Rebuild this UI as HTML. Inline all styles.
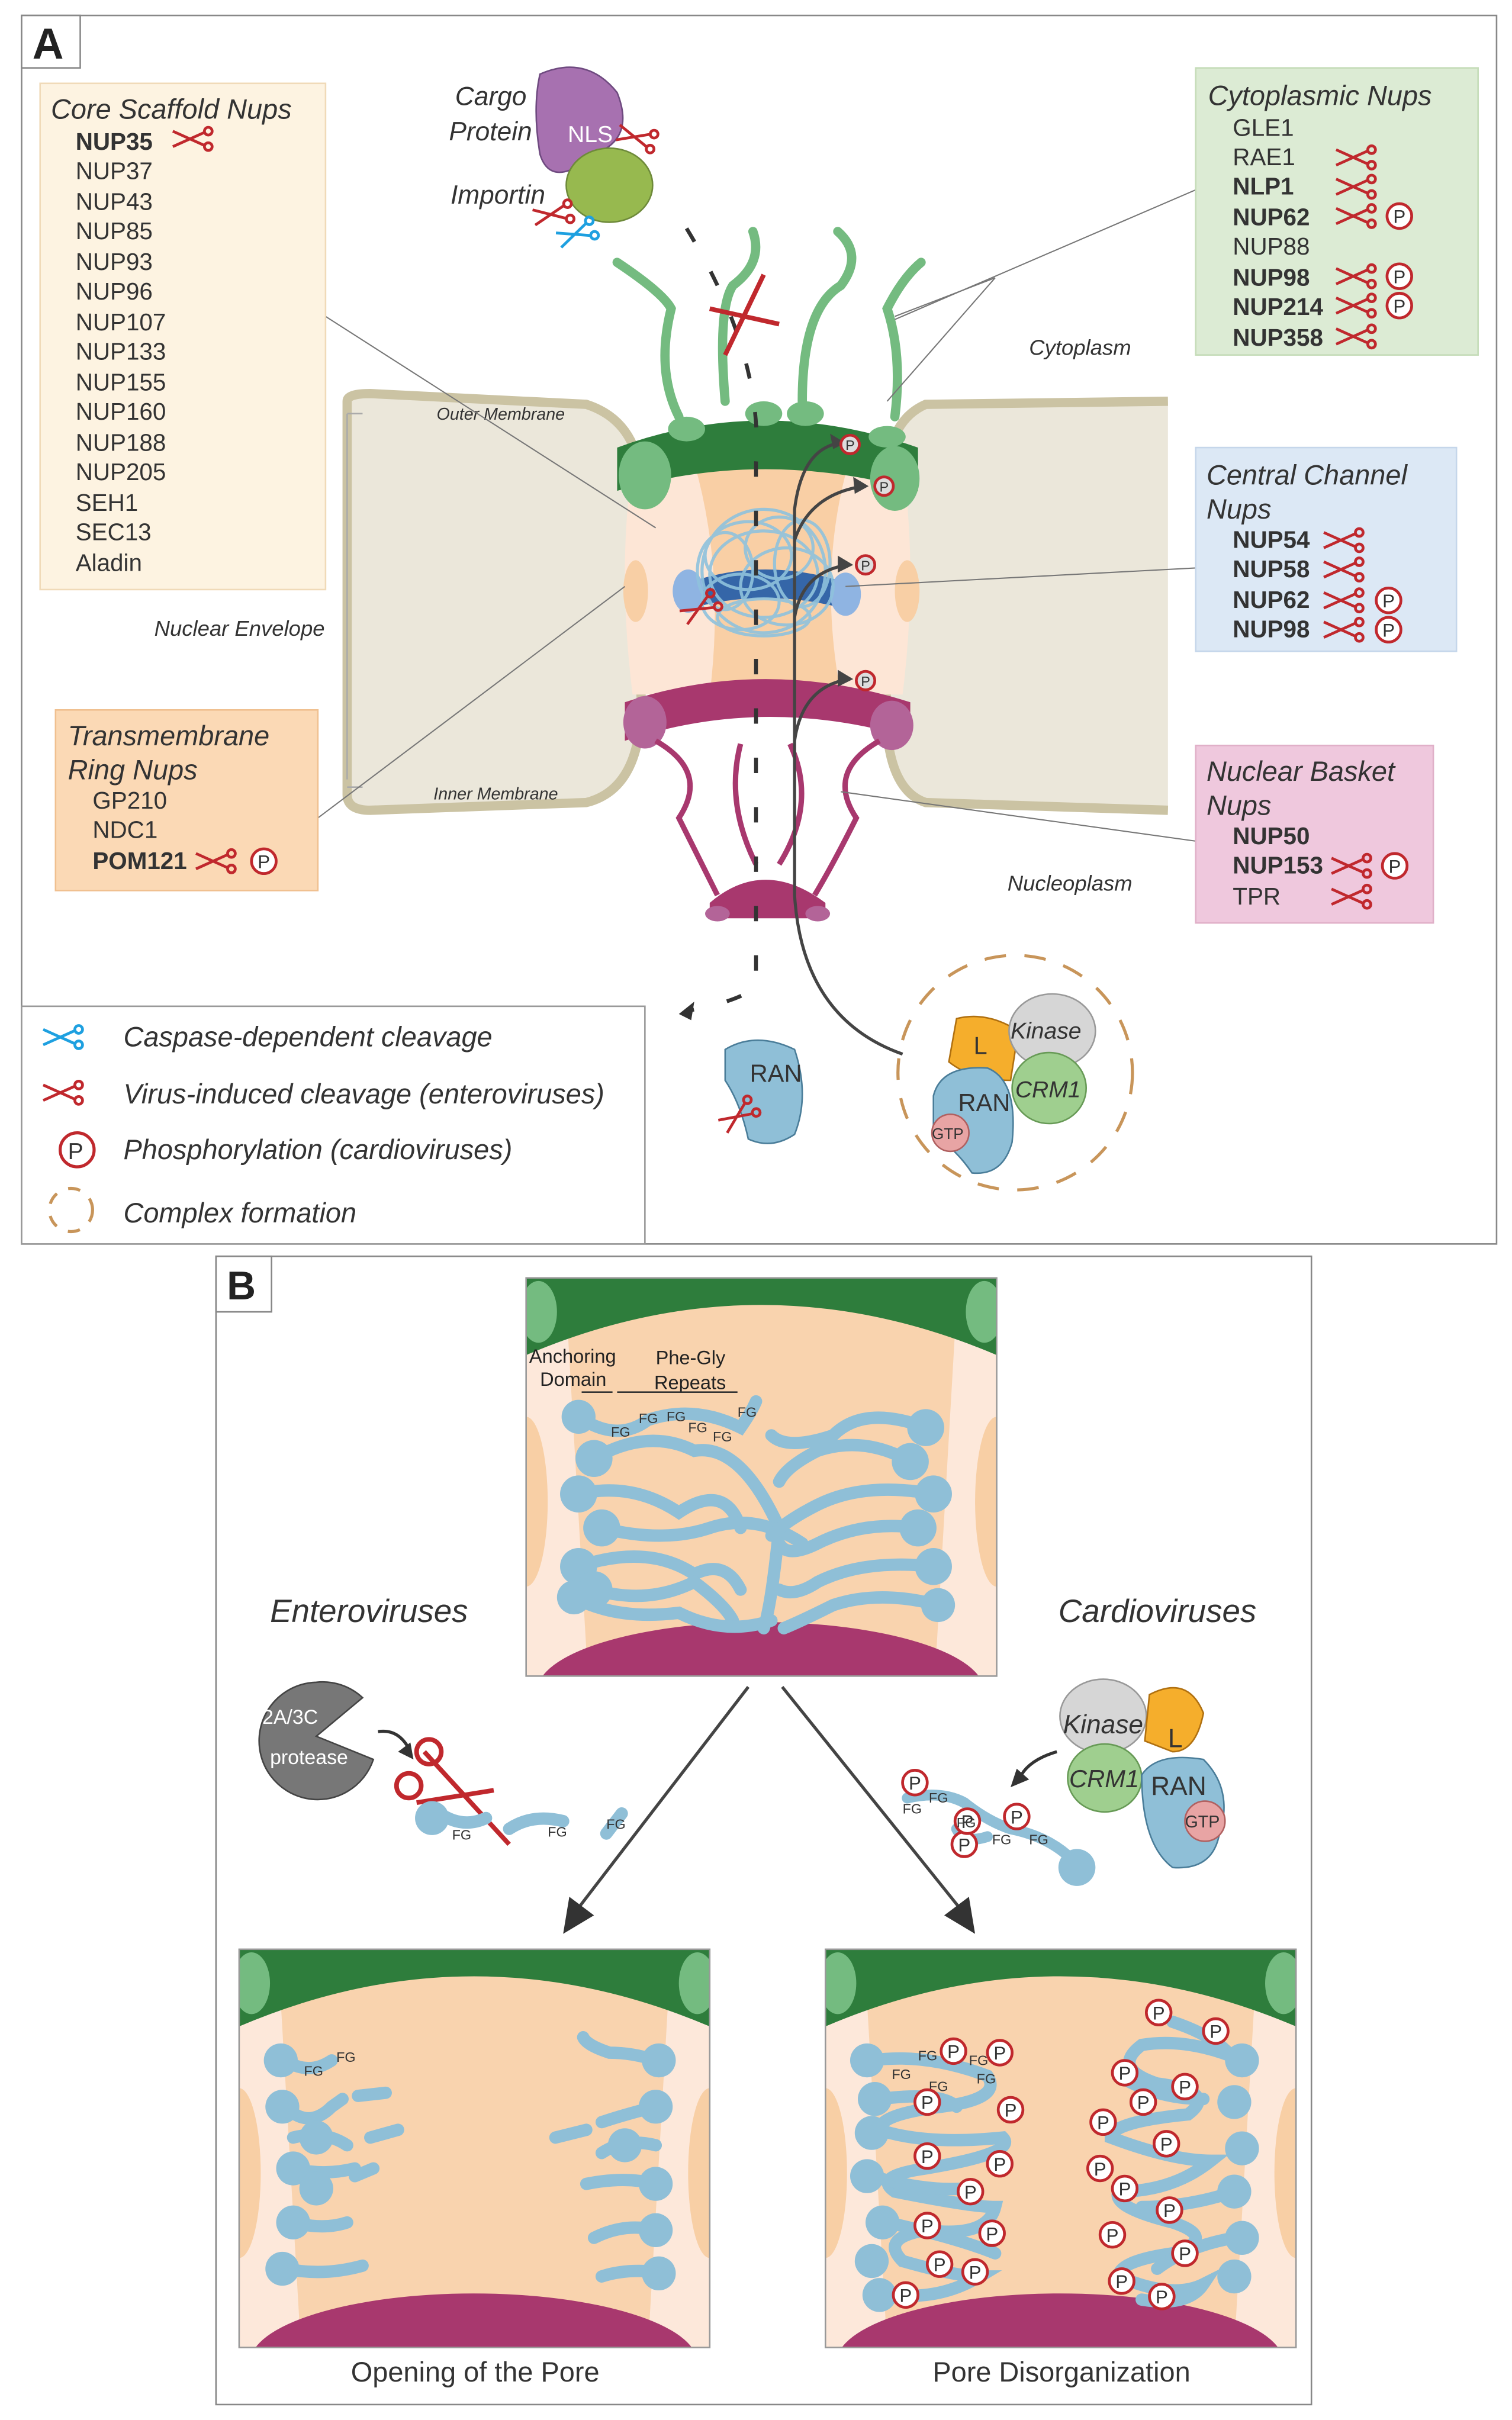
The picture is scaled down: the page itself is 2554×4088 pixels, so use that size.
<!DOCTYPE html>
<html><head><meta charset="utf-8"><style>
html,body{margin:0;padding:0;background:#fff}
svg{display:block}
text{font-family:"Liberation Sans",sans-serif;fill:#333}
.it{font-style:italic}
.b{font-weight:bold}
</style></head><body>
<svg width="2554" height="4088" viewBox="0 0 980 1568" preserveAspectRatio="none" xmlns="http://www.w3.org/2000/svg">
<defs>
<g id="sc" fill="none" stroke="#c0282d" stroke-width="1.8">
<line x1="0" y1="1" x2="20" y2="10"/><line x1="0" y1="11" x2="20" y2="2"/>
<circle cx="23" cy="11" r="2.5"/><circle cx="23" cy="1" r="2.5"/></g>
<g id="scb" fill="none" stroke="#1ea0e0" stroke-width="1.8">
<line x1="0" y1="1" x2="20" y2="10"/><line x1="0" y1="11" x2="20" y2="2"/>
<circle cx="23" cy="11" r="2.5"/><circle cx="23" cy="1" r="2.5"/></g>
<g id="p"><circle r="8" fill="#fff" stroke="#c0282d" stroke-width="1.8"/><text x="0" y="4.5" text-anchor="middle" font-size="12" style="fill:#333">P</text></g>
<g id="ps"><circle r="6" fill="#ddd" stroke="#c0282d" stroke-width="1.8"/><text x="0" y="3.5" text-anchor="middle" font-size="9" style="fill:#333">P</text></g>
<clipPath id="cp"><rect width="305" height="258"/></clipPath>
<g id="pane"><g clip-path="url(#cp)">
<rect width="305" height="258" fill="#fde8da"/>
<path d="M25,0 H280 L265,258 H40 Z" fill="#f9d3ae"/>
<ellipse cx="0" cy="145" rx="14" ry="55" fill="#f8cfa5"/><ellipse cx="305" cy="145" rx="14" ry="55" fill="#f8cfa5"/>
<path d="M0,0 H305 V50 Q152,-15 0,50 Z" fill="#2e7d3c"/>
<ellipse cx="8" cy="22" rx="12" ry="20" fill="#74bb80"/><ellipse cx="297" cy="22" rx="12" ry="20" fill="#74bb80"/>
<ellipse cx="152" cy="268" rx="145" ry="45" fill="#a8386e"/>
</g><rect width="305" height="258" fill="none" stroke="#999" stroke-width="1"/></g>
</defs>

<!-- PANEL A -->
<rect x="14" y="10" width="956" height="796" fill="#fff" stroke="#888" stroke-width="1"/>
<rect x="14" y="10" width="38" height="34" fill="#fff" stroke="#888"/>
<text x="21" y="38" font-size="28" class="b" style="fill:#222">A</text>

<!-- membranes -->
<path d="M225,260 Q225,255 240,255 L380,262 Q420,275 415,330 Q405,370 415,440 Q420,510 380,520 L240,525 Q225,525 225,515 Z" fill="#ebe7da" stroke="#cbc3a3" stroke-width="6"/>
<path d="M757,260 L600,262 Q570,275 575,330 Q585,370 575,440 Q570,510 600,520 L757,525" fill="#ebe7da" stroke="#cbc3a3" stroke-width="6"/>
<path d="M225,268 V505" stroke="#aaa" fill="none"/><path d="M225,268 H235 M225,510 H235" stroke="#aaa"/>
<text x="283" y="272" font-size="11" class="it">Outer Membrane</text>
<text x="281" y="518" font-size="11" class="it">Inner Membrane</text>
<text x="100" y="412" font-size="14" class="it">Nuclear Envelope</text>
<text x="667" y="230" font-size="14" class="it">Cytoplasm</text>
<text x="653" y="577" font-size="14" class="it">Nucleoplasm</text>

<!-- pore body -->
<path d="M410,300 Q400,370 410,450 L585,450 Q595,370 585,300 Z" fill="#fde6d6"/>
<path d="M450,300 Q470,370 460,450 L545,450 Q530,370 550,300 Z" fill="#f9cfa5"/>
<ellipse cx="412" cy="383" rx="8" ry="20" fill="#f8cfa5"/><ellipse cx="588" cy="383" rx="8" ry="20" fill="#f8cfa5"/>
<!-- green filaments -->
<g stroke="#74bb80" stroke-width="6" fill="none" stroke-linecap="round">
<path d="M400,170 Q430,190 435,200 Q425,240 440,270"/>
<path d="M488,150 Q495,170 475,185 Q465,200 470,260"/>
<path d="M543,150 Q560,165 545,185 Q520,200 520,260"/>
<path d="M597,170 Q585,180 575,200 Q585,230 580,270"/></g>
<path d="M405,295 Q495,250 590,295 L590,310 Q495,290 405,315 Z" fill="#2e7d3c"/>
<path d="M400,290 Q495,255 595,290 L595,318 Q495,290 400,318 Z" fill="#2e7d3c"/>
<g fill="#74bb80"><ellipse cx="418" cy="308" rx="17" ry="22"/><ellipse cx="580" cy="310" rx="16" ry="21"/>
<ellipse cx="445" cy="278" rx="12" ry="8"/><ellipse cx="495" cy="268" rx="12" ry="8"/><ellipse cx="522" cy="268" rx="12" ry="8"/><ellipse cx="575" cy="283" rx="12" ry="7"/></g>
<!-- central channel -->
<path d="M445,378 Q495,360 550,378 L550,395 Q495,380 445,395 Z" fill="#3566a8"/>
<ellipse cx="446" cy="383" rx="10" ry="14" fill="#8fb4e2"/><ellipse cx="548" cy="385" rx="10" ry="14" fill="#8fb4e2"/>
<g stroke="#8fc2dd" stroke-width="2" fill="none" opacity="0.9">
<ellipse cx="495" cy="370" rx="40" ry="40"/><ellipse cx="485" cy="360" rx="28" ry="22"/><ellipse cx="510" cy="380" rx="30" ry="25"/>
<ellipse cx="480" cy="390" rx="25" ry="18"/><ellipse cx="505" cy="355" rx="22" ry="20"/><ellipse cx="495" cy="372" rx="35" ry="28"/>
<ellipse cx="470" cy="370" rx="18" ry="25"/><ellipse cx="520" cy="365" rx="18" ry="28"/><ellipse cx="495" cy="400" rx="30" ry="12"/></g>
<!-- magenta -->
<path d="M405,455 Q495,425 590,455 L590,478 Q495,450 405,480 Z" fill="#a8386e"/>
<ellipse cx="418" cy="468" rx="14" ry="17" fill="#b36498"/><ellipse cx="578" cy="470" rx="14" ry="16" fill="#b36498"/>
<g stroke="#a8386e" stroke-width="3.5" fill="none">
<path d="M425,480 Q460,500 440,530 Q455,560 465,580"/><path d="M480,482 Q470,520 490,560"/>
<path d="M512,482 Q530,520 505,560"/><path d="M570,480 Q535,500 555,530 Q540,560 528,580"/></g>
<path d="M460,585 Q495,555 535,585 L535,595 H460 Z" fill="#a8386e"/>
<ellipse cx="465" cy="592" rx="8" ry="5" fill="#b36498"/><ellipse cx="530" cy="592" rx="8" ry="5" fill="#b36498"/>
<!-- dashed path -->
<path d="M445,148 Q495,230 490,300 L490,640 Q475,650 445,655" stroke="#333" stroke-width="2.5" fill="none" stroke-dasharray="10,22"/>
<path d="M440,657 l10,-8 l-2,12 z" fill="#333"/>
<path d="M460,200 L505,210 M470,230 L495,178" stroke="#c0282d" stroke-width="3"/>
<!-- export arrows -->
<g stroke="#444" stroke-width="2" fill="none">
<path d="M585,683 Q520,660 515,580 L515,330 Q520,290 545,287"/>
<path d="M515,350 Q525,320 560,315"/><path d="M515,400 Q520,370 550,366"/><path d="M515,480 Q520,445 550,440"/></g>
<g fill="#444"><path d="M548,287 l-10,-6 l2,10z"/><path d="M563,315 l-10,-6 l1,11z"/><path d="M553,366 l-10,-6 l0,11z"/><path d="M553,440 l-10,-6 l0,11z"/></g>
<use href="#ps" x="551" y="288"/><use href="#ps" x="573" y="315"/><use href="#ps" x="561" y="366"/><use href="#ps" x="561" y="441"/>
<use href="#sc" transform="translate(440,395) rotate(-30)"/>

<!-- cargo -->
<path d="M350,48 Q380,35 400,60 Q412,90 385,100 L370,110 Q355,116 350,100 Q345,70 350,48Z" fill="#a771b0" stroke="#6f4a80"/>
<text x="368" y="92" font-size="15" style="fill:#fff">NLS</text>
<ellipse cx="395" cy="120" rx="28" ry="24" fill="#97b94f" stroke="#6e8a3a"/>
<use href="#sc" transform="translate(402,80) rotate(15)"/>
<use href="#sc" transform="translate(345,135) rotate(-10)"/><use href="#scb" transform="translate(360,150) rotate(-20)"/>
<text x="295" y="68" font-size="17" class="it">Cargo</text>
<text x="291" y="91" font-size="17" class="it">Protein</text>
<text x="292" y="132" font-size="17" class="it">Importin</text>

<!-- complex -->
<circle cx="658" cy="695" r="76" fill="none" stroke="#c8955a" stroke-width="2" stroke-dasharray="14,12"/>
<path d="M620,660 Q640,655 660,668 L655,700 Q630,700 615,688Z" fill="#f5ae2c" stroke="#b07010"/>
<text x="631" y="683" font-size="16">L</text>
<ellipse cx="682" cy="668" rx="28" ry="24" fill="#d6d6d6" stroke="#999"/>
<text x="655" y="673" font-size="15" class="it">Kinase</text>
<ellipse cx="680" cy="705" rx="24" ry="23" fill="#9fcf8f" stroke="#679a56"/>
<text x="658" y="711" font-size="15" class="it">CRM1</text>
<path d="M605,710 Q610,690 640,692 Q660,700 656,740 Q650,762 630,760 Q620,745 605,735Z" fill="#8fbfd7" stroke="#4a7d99"/>
<text x="621" y="720" font-size="16">RAN</text>
<circle cx="616" cy="734" r="12" fill="#e8a4a4" stroke="#b06060"/>
<text x="604" y="738" font-size="10">GTP</text>
<path d="M470,680 Q490,668 515,680 Q525,710 515,735 Q500,745 485,738 Q480,715 470,700Z" fill="#8fbfd7" stroke="#4a7d99"/>
<text x="486" y="701" font-size="16">RAN</text>
<use href="#sc" transform="translate(465,725) rotate(-35)"/>

<!-- connector lines -->
<g stroke="#777" stroke-width="0.8" fill="none">
<line x1="211" y1="205" x2="425" y2="342"/><line x1="206" y1="530" x2="405" y2="380"/>
<line x1="775" y1="123" x2="580" y2="207"/><line x1="645" y1="180" x2="580" y2="205"/><line x1="645" y1="180" x2="575" y2="260"/>
<line x1="775" y1="368" x2="548" y2="380"/><line x1="775" y1="545" x2="545" y2="513"/></g>

<!-- Core scaffold -->
<rect x="26" y="54" width="185" height="328" fill="#fdf3e1" stroke="#f0dab8"/>
<g font-size="15.5">
<text x="33" y="77" font-size="18" class="it">Core Scaffold Nups</text>
<text x="49" y="97" class="b">NUP35</text><use href="#sc" transform="translate(112,84)"/>
<text x="49" y="116">NUP37</text><text x="49" y="136">NUP43</text><text x="49" y="155">NUP85</text>
<text x="49" y="175">NUP93</text><text x="49" y="194">NUP96</text><text x="49" y="214">NUP107</text>
<text x="49" y="233">NUP133</text><text x="49" y="253">NUP155</text><text x="49" y="272">NUP160</text>
<text x="49" y="292">NUP188</text><text x="49" y="311">NUP205</text><text x="49" y="331">SEH1</text>
<text x="49" y="350">SEC13</text><text x="49" y="370">Aladin</text></g>

<!-- Cytoplasmic -->
<rect x="775" y="44" width="183" height="186" fill="#dcebd4" stroke="#c5dcb8"/>
<g font-size="15.5">
<text x="783" y="68" font-size="18" class="it">Cytoplasmic Nups</text>
<text x="799" y="88">GLE1</text><text x="799" y="107">RAE1</text><text x="799" y="126" class="b">NLP1</text>
<text x="799" y="146" class="b">NUP62</text><text x="799" y="165">NUP88</text><text x="799" y="185" class="b">NUP98</text>
<text x="799" y="204" class="b">NUP214</text><text x="799" y="224" class="b">NUP358</text></g>
<use href="#sc" transform="translate(866,96)"/><use href="#sc" transform="translate(866,115)"/><use href="#sc" transform="translate(866,134)"/>
<use href="#sc" transform="translate(866,173)"/><use href="#sc" transform="translate(866,192)"/><use href="#sc" transform="translate(866,212)"/>
<use href="#p" x="907" y="140"/><use href="#p" x="907" y="179"/><use href="#p" x="907" y="198"/>

<!-- Central channel -->
<rect x="775" y="290" width="169" height="132" fill="#dce8f5" stroke="#c5d6ea"/>
<g font-size="15.5">
<text x="782" y="314" font-size="18" class="it">Central Channel</text>
<text x="782" y="336" font-size="18" class="it">Nups</text>
<text x="799" y="355" class="b">NUP54</text><text x="799" y="374" class="b">NUP58</text>
<text x="799" y="394" class="b">NUP62</text><text x="799" y="413" class="b">NUP98</text></g>
<use href="#sc" transform="translate(858,344)"/><use href="#sc" transform="translate(858,363)"/><use href="#sc" transform="translate(858,383)"/><use href="#sc" transform="translate(858,402)"/>
<use href="#p" x="900" y="389"/><use href="#p" x="900" y="408"/>

<!-- Nuclear basket -->
<rect x="775" y="483" width="154" height="115" fill="#efc8dd" stroke="#e0b0c8"/>
<g font-size="15.5">
<text x="782" y="506" font-size="18" class="it">Nuclear Basket</text>
<text x="782" y="528" font-size="18" class="it">Nups</text>
<text x="799" y="547" class="b">NUP50</text><text x="799" y="566" class="b">NUP153</text><text x="799" y="586">TPR</text></g>
<use href="#sc" transform="translate(863,555)"/><use href="#sc" transform="translate(863,575)"/><use href="#p" x="904" y="561"/>

<!-- Transmembrane -->
<rect x="36" y="460" width="170" height="117" fill="#fbd9b5" stroke="#f0c090"/>
<g font-size="15.5">
<text x="44" y="483" font-size="18" class="it">Transmembrane</text>
<text x="44" y="505" font-size="18" class="it">Ring Nups</text>
<text x="60" y="524">GP210</text><text x="60" y="543">NDC1</text><text x="60" y="563" class="b">POM121</text></g>
<use href="#sc" transform="translate(127,552)"/><use href="#p" x="171" y="558"/>

<!-- legend -->
<rect x="14" y="652" width="404" height="154" fill="#fff" stroke="#999"/>
<use href="#scb" transform="translate(28,666)"/><use href="#sc" transform="translate(28,702)"/>
<circle cx="50" cy="745" r="11" fill="#fff" stroke="#c0282d" stroke-width="2"/><text x="44" y="751" font-size="15">P</text>
<circle cx="46" cy="784" r="14" fill="none" stroke="#c8955a" stroke-width="2" stroke-dasharray="8,8"/>
<g font-size="18" class="it"><text x="80" y="678" class="it">Caspase-dependent  cleavage</text>
<text x="80" y="715" class="it">Virus-induced  cleavage  (enteroviruses)</text>
<text x="80" y="751" class="it">Phosphorylation  (cardioviruses)</text>
<text x="80" y="792" class="it">Complex  formation</text></g>

<!-- PANEL B -->
<rect x="140" y="814" width="710" height="744" fill="#fff" stroke="#888"/>
<rect x="140" y="814" width="36" height="36" fill="#fff" stroke="#888"/>
<text x="147" y="842" font-size="26" class="b" style="fill:#222">B</text>

<use href="#pane" x="341" y="828"/>
<text x="343" y="883" font-size="12.5" style="fill:#222">Anchoring</text>
<text x="350" y="898" font-size="12.5" style="fill:#222">Domain</text>
<text x="425" y="884" font-size="12.5" style="fill:#222">Phe-Gly</text>
<text x="424" y="900" font-size="12.5" style="fill:#222">Repeats</text>
<line x1="377" y1="902" x2="397" y2="902" stroke="#333"/><line x1="400" y1="902" x2="478" y2="902" stroke="#333"/>
<g stroke="#8fbfd7" stroke-width="8" fill="none" stroke-linecap="round">
<path d="M375,918 Q400,935 420,920 Q450,910 480,925 Q487,915 490,908"/>
<path d="M385,945 Q420,925 450,940 Q480,935 505,990 Q500,1040 495,1055"/>
<path d="M375,968 Q410,960 440,980 Q470,960 480,990"/>
<path d="M390,990 Q430,1000 460,990 Q490,980 520,1000"/>
<path d="M375,1015 Q420,1000 450,1020 Q470,1010 480,1030"/>
<path d="M385,1030 Q420,1040 450,1025 Q470,1040 475,1050"/>
<path d="M372,1035 Q400,1050 440,1045 Q470,1060 500,1050"/>
<path d="M600,925 Q560,910 540,930 Q510,940 500,930"/>
<path d="M590,947 Q560,930 530,940 Q510,950 505,960"/>
<path d="M605,968 Q560,960 530,975 Q510,985 500,995"/>
<path d="M595,990 Q560,985 530,1000 Q510,1010 505,1000"/>
<path d="M605,1015 Q560,1010 530,1025 Q515,1035 505,1030"/>
<path d="M608,1040 Q570,1030 540,1040 Q520,1050 508,1055"/></g>
<g fill="#8fbfd7"><circle cx="375" cy="918" r="11"/><circle cx="385" cy="945" r="12"/><circle cx="375" cy="968" r="12"/><circle cx="390" cy="990" r="12"/>
<circle cx="375" cy="1015" r="12"/><circle cx="385" cy="1030" r="12"/><circle cx="372" cy="1035" r="11"/>
<circle cx="600" cy="925" r="12"/><circle cx="590" cy="947" r="12"/><circle cx="605" cy="968" r="12"/><circle cx="595" cy="990" r="12"/>
<circle cx="605" cy="1015" r="12"/><circle cx="608" cy="1040" r="11"/></g>
<g font-size="9" style="fill:#222"><text x="396" y="931">FG</text><text x="414" y="922">FG</text><text x="432" y="921">FG</text><text x="446" y="928">FG</text><text x="462" y="934">FG</text><text x="478" y="918">FG</text></g>

<text x="175" y="1051" font-size="21" class="it">Enteroviruses</text>
<text x="686" y="1051" font-size="21" class="it">Cardioviruses</text>

<!-- arrows -->
<g stroke="#444" stroke-width="2"><line x1="485" y1="1093" x2="372" y2="1240"/><line x1="507" y1="1093" x2="625" y2="1240"/></g>
<path d="M365,1253 l4,-24 l16,12z" fill="#333"/><path d="M632,1253 l-20,-12 l16,-12z" fill="#333"/>

<!-- protease -->
<path d="M205,1090 A38,38 0 1 0 242,1140 L205,1125 L235,1100 A38,38 0 0 0 205,1090Z" fill="#777" stroke="#444"/>
<text x="170" y="1117" font-size="13" style="fill:#fff">2A/3C</text>
<text x="175" y="1143" font-size="13" style="fill:#fff">protease</text>
<path d="M245,1122 Q258,1120 265,1133" stroke="#333" stroke-width="2" fill="none"/><path d="M268,1140 l-10,-5 l8,-6z" fill="#333"/>
<g stroke="#c0282d" stroke-width="3" fill="none"><line x1="275" y1="1135" x2="330" y2="1195"/><line x1="270" y1="1168" x2="320" y2="1160"/>
<circle cx="265" cy="1157" r="8"/><circle cx="278" cy="1135" r="8"/></g>
<g stroke="#8fbfd7" stroke-width="8" fill="none" stroke-linecap="round"><path d="M285,1175 Q300,1185 315,1178"/><path d="M330,1185 Q345,1175 365,1180"/><path d="M393,1188 L403,1175"/></g>
<circle cx="280" cy="1178" r="11" fill="#8fbfd7"/>
<g font-size="9" style="fill:#222"><text x="293" y="1192">FG</text><text x="355" y="1190">FG</text><text x="393" y="1185">FG</text></g>

<!-- cardio complex -->
<ellipse cx="715" cy="1112" rx="28" ry="24" fill="#d6d6d6" stroke="#999"/>
<text x="689" y="1123" font-size="17" class="it">Kinase</text>
<path d="M745,1098 Q770,1085 780,1110 Q775,1135 760,1135 L742,1128Z" fill="#f5ae2c" stroke="#b07010"/>
<text x="757" y="1132" font-size="17">L</text>
<ellipse cx="716" cy="1152" rx="24" ry="22" fill="#9fcf8f" stroke="#679a56"/>
<text x="693" y="1158" font-size="16" class="it">CRM1</text>
<path d="M740,1150 Q750,1135 780,1140 Q800,1160 790,1190 Q785,1212 760,1210 Q740,1195 740,1150Z" fill="#8fbfd7" stroke="#4a7d99"/>
<text x="746" y="1163" font-size="17">RAN</text>
<circle cx="781" cy="1180" r="13" fill="#e8a4a4" stroke="#b06060"/><text x="768" y="1184" font-size="11">GTP</text>
<path d="M685,1135 Q668,1140 662,1150" stroke="#333" stroke-width="2" fill="none"/><path d="M655,1158 l4,-12 l8,7z" fill="#333"/>
<g stroke="#8fbfd7" stroke-width="7" fill="none" stroke-linecap="round"><path d="M588,1165 Q610,1160 625,1168 Q640,1180 655,1185 Q680,1190 695,1205"/><path d="M620,1185 Q625,1195 640,1190"/></g>
<circle cx="698" cy="1210" r="12" fill="#8fbfd7"/>
<use href="#p" x="593" y="1155"/><use href="#p" x="659" y="1177"/><use href="#p" x="625" y="1195"/><use href="#p" x="627" y="1180"/>
<g font-size="9" style="fill:#222"><text x="585" y="1175">FG</text><text x="602" y="1168">FG</text><text x="620" y="1184">FG</text><text x="643" y="1195">FG</text><text x="667" y="1195">FG</text></g>

<!-- bottom panes -->
<use href="#pane" x="155" y="1263"/>
<use href="#pane" x="535" y="1263"/>
<g stroke="#8fbfd7" stroke-width="8" fill="none" stroke-linecap="round">
<path d="M185,1335 Q200,1345 215,1335"/><path d="M185,1365 Q200,1380 215,1365 L222,1360"/><path d="M232,1358 L250,1356"/>
<path d="M190,1385 Q210,1380 225,1390"/><path d="M190,1405 Q210,1410 230,1405"/><path d="M240,1385 L258,1380"/>
<path d="M190,1440 Q210,1445 225,1440"/><path d="M185,1470 Q210,1475 235,1468"/><path d="M230,1410 L242,1405"/>
<path d="M425,1335 Q410,1330 395,1330 Q380,1325 378,1320"/><path d="M425,1365 Q405,1370 390,1375"/><path d="M380,1380 L360,1385"/>
<path d="M425,1390 Q405,1385 390,1395"/><path d="M425,1415 Q405,1410 380,1415"/><path d="M425,1445 Q405,1440 385,1450"/><path d="M425,1472 Q405,1470 390,1475"/></g>
<g fill="#8fbfd7"><circle cx="182" cy="1335" r="11"/><circle cx="183" cy="1365" r="11"/><circle cx="205" cy="1385" r="11"/><circle cx="190" cy="1405" r="11"/>
<circle cx="205" cy="1418" r="11"/><circle cx="190" cy="1440" r="11"/><circle cx="183" cy="1470" r="11"/>
<circle cx="427" cy="1335" r="11"/><circle cx="425" cy="1365" r="11"/><circle cx="405" cy="1390" r="11"/><circle cx="425" cy="1415" r="11"/><circle cx="425" cy="1445" r="11"/><circle cx="427" cy="1473" r="11"/></g>
<g font-size="9" style="fill:#222"><text x="197" y="1345">FG</text><text x="218" y="1336">FG</text></g>

<g stroke="#8fbfd7" stroke-width="8" fill="none" stroke-linecap="round">
<path d="M565,1335 Q600,1330 640,1345 Q650,1360 610,1365 Q570,1370 570,1380 Q600,1390 650,1385 Q660,1395 600,1405 Q565,1410 580,1420 Q630,1430 645,1430 Q640,1450 600,1445 Q570,1450 585,1465 Q620,1475 635,1475 Q610,1490 580,1487"/>
<path d="M570,1360 Q610,1355 620,1365 M575,1440 Q620,1450 645,1460 M565,1410 Q600,1420 625,1418"/>
<path d="M805,1335 Q770,1320 740,1325 Q720,1340 750,1350 Q790,1355 770,1370 Q720,1375 720,1385 Q760,1400 785,1400 Q760,1420 725,1420 Q720,1430 760,1440 Q790,1450 760,1460 Q725,1465 725,1475 Q760,1490 780,1480 Q770,1495 740,1490"/>
<path d="M780,1360 Q750,1360 725,1345 M800,1420 Q770,1430 740,1430 M800,1450 Q770,1455 750,1470 M760,1310 Q790,1320 800,1335"/></g>
<g fill="#8fbfd7"><circle cx="562" cy="1335" r="11"/><circle cx="567" cy="1360" r="11"/><circle cx="565" cy="1382" r="11"/><circle cx="562" cy="1410" r="11"/>
<circle cx="572" cy="1440" r="11"/><circle cx="565" cy="1465" r="11"/><circle cx="570" cy="1487" r="11"/>
<circle cx="805" cy="1335" r="11"/><circle cx="800" cy="1362" r="11"/><circle cx="805" cy="1392" r="11"/><circle cx="800" cy="1420" r="11"/><circle cx="805" cy="1450" r="11"/><circle cx="800" cy="1475" r="11"/></g>
<g font-size="9" style="fill:#222"><text x="578" y="1347">FG</text><text x="595" y="1335">FG</text><text x="602" y="1355">FG</text><text x="628" y="1338">FG</text><text x="633" y="1350">FG</text></g>
<use href="#p" x="618" y="1329"/><use href="#p" x="648" y="1330"/><use href="#p" x="601" y="1362"/><use href="#p" x="655" y="1367"/>
<use href="#p" x="601" y="1397"/><use href="#p" x="648" y="1402"/><use href="#p" x="629" y="1420"/><use href="#p" x="601" y="1442"/>
<use href="#p" x="643" y="1447"/><use href="#p" x="609" y="1467"/><use href="#p" x="632" y="1472"/><use href="#p" x="587" y="1487"/>
<use href="#p" x="751" y="1304"/><use href="#p" x="788" y="1316"/><use href="#p" x="729" y="1343"/><use href="#p" x="768" y="1352"/>
<use href="#p" x="741" y="1362"/><use href="#p" x="715" y="1375"/><use href="#p" x="756" y="1389"/><use href="#p" x="713" y="1405"/>
<use href="#p" x="729" y="1418"/><use href="#p" x="758" y="1432"/><use href="#p" x="721" y="1448"/><use href="#p" x="768" y="1460"/>
<use href="#p" x="727" y="1478"/><use href="#p" x="753" y="1488"/>

<text x="308" y="1543" font-size="18" text-anchor="middle">Opening  of  the  Pore</text>
<text x="688" y="1543" font-size="18" text-anchor="middle">Pore  Disorganization</text>
</svg>
</body></html>
